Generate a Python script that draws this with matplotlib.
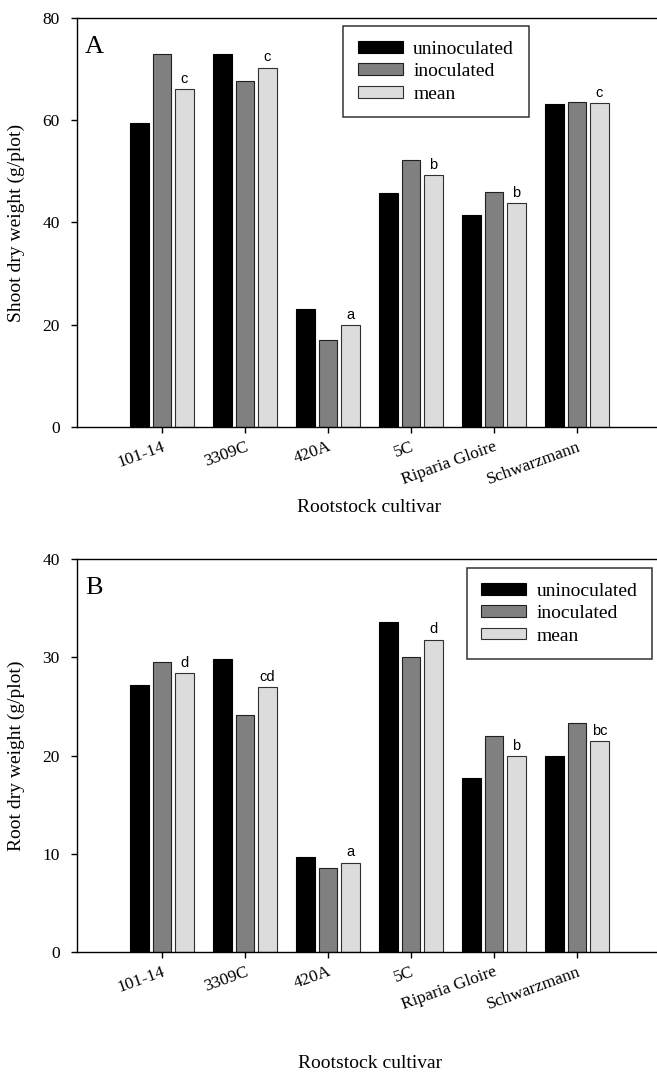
import matplotlib
matplotlib.use("Agg")
import matplotlib.pyplot as plt
import numpy as np

cultivars = ["101-14", "3309C", "420A", "5C", "Riparia Gloire", "Schwarzmann"]
series_names = ["uninoculated", "inoculated", "mean"]

shoot_uninoc = [59.4, 72.9, 23.0, 45.8, 41.5, 63.2]
shoot_inoc = [73.0, 67.7, 17.0, 52.3, 46.0, 63.5]
shoot_mean = [66.1, 70.3, 19.9, 49.2, 43.8, 63.3]
shoot_letters = ["c", "c", "a", "b", "b", "c"]

root_uninoc = [27.2, 29.8, 9.65, 33.55, 17.7, 19.95]
root_inoc = [29.5, 24.1, 8.6, 30.0, 22.0, 23.3]
root_mean = [28.4, 27.0, 9.1, 31.8, 19.9, 21.5]
root_letters = ["d", "cd", "a", "d", "b", "bc"]

colors = ["#000000", "#808080", "#dcdcdc"]
edgecolors = ["#000000", "#202020", "#303030"]

W, H = 657, 1075
fig = plt.figure(figsize=(W / 100, H / 100), dpi=100)

serif = ["Liberation Serif", "DejaVu Serif"]
sans = ["Liberation Sans", "DejaVu Sans"]


def panel(rect_px, data, letters, ymax, ystep, ylabel, tag, leg_anchor):
    l, t, r, b = rect_px
    ax = fig.add_axes([l / W, (H - b) / H, (r - l) / W, (b - t) / H])
    x = np.arange(len(cultivars))
    off = 0.27
    width = 0.22
    for i, vals in enumerate(data):
        ax.bar(x + (i - 1) * off, vals, width=width, color=colors[i],
               edgecolor=edgecolors[i], linewidth=0.8, label=series_names[i],
               zorder=2)
    for xi, v, lt in zip(x, data[2], letters):
        ax.text(xi + off, v + ymax * 0.008, lt, ha="center", va="bottom",
                fontsize=10.5, family=sans)
    ax.set_xlim(-1.024, -1.024 + (r - l) / 83.0)
    ax.set_ylim(0, ymax)
    ax.set_yticks(np.arange(0, ymax + 0.1, ystep))
    ax.set_xticks(x)
    ax.set_xticklabels(cultivars, rotation=20, ha="right", rotation_mode="anchor",
                       fontsize=12.5, family=serif)
    for lab in ax.get_yticklabels():
        lab.set_family(serif)
        lab.set_fontsize(12.5)
    ax.tick_params(axis="both", direction="out", length=4.5, width=1.0, color="black")
    ax.tick_params(axis="x", pad=4)
    ax.tick_params(axis="y", pad=8)
    ax.spines["right"].set_visible(False)
    for s in ["top", "left", "bottom"]:
        ax.spines[s].set_linewidth(1.0)
    ax.set_ylabel(ylabel, fontsize=14, family=serif)
    ax.yaxis.set_label_coords(-0.09, 0.5)
    ax.text(0.014, 0.955, tag, transform=ax.transAxes, fontsize=19, family=serif,
            ha="left", va="top")
    leg = ax.legend(loc="upper left", bbox_to_anchor=leg_anchor, borderaxespad=0,
                    prop={"family": serif, "size": 14}, frameon=True, fancybox=False,
                    edgecolor="black", handlelength=2.3, handleheight=0.55,
                    handletextpad=0.55, labelspacing=0.28, borderpad=0.75)
    leg.get_frame().set_linewidth(1.1)
    return ax


axA = panel((77, 18, 657, 427), [shoot_uninoc, shoot_inoc, shoot_mean], shoot_letters,
            80, 20, "Shoot dry weight (g/plot)", "A", (0.459, 0.980))
axB = panel((77, 559, 657, 952), [root_uninoc, root_inoc, root_mean], root_letters,
            40, 10, "Root dry weight (g/plot)", "B", (0.672, 0.977))

fig.text(369 / W, 1 - 507 / H, "Rootstock cultivar", ha="center", va="center",
         fontsize=14, family=serif)
fig.text(370 / W, 1 - 1063 / H, "Rootstock cultivar", ha="center", va="center",
         fontsize=14, family=serif)

fig.savefig("out.png", dpi=100)
